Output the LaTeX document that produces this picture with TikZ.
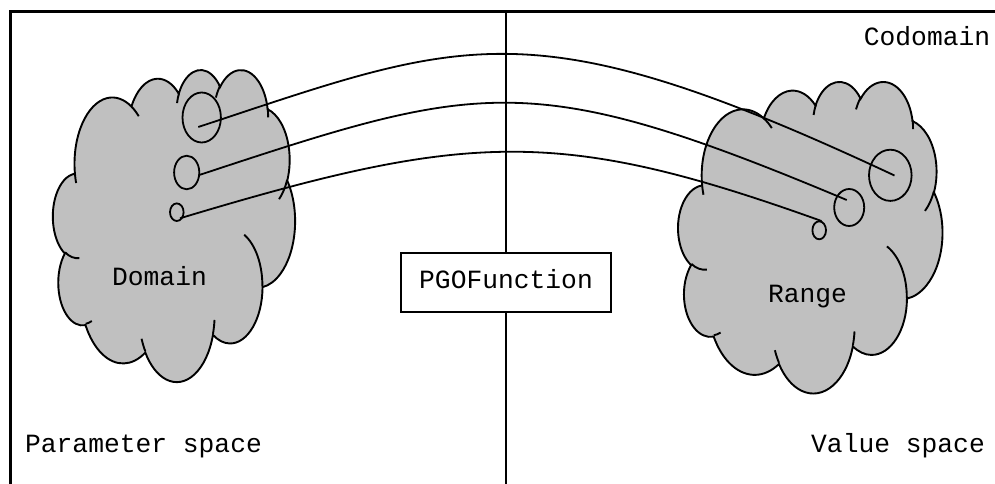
\documentclass[tikz,border=0pt]{standalone}
\usepackage{fontspec}
\setmonofont{Liberation Mono}
\usetikzlibrary{shapes.geometric}
\definecolor{cloudgray}{RGB}{192,192,192}
% convert OOXML visual arc angles into TikZ parametric angles
\newcommand\cloudcvt[5]{%
  \pgfmathsetmacro\tmpS{atan2((#2)*sin(#4),(#3)*cos(#4))}%
  \pgfmathsetmacro\tmpE{atan2((#2)*sin((#4)+(#5)),(#3)*cos((#4)+(#5)))}%
  \pgfmathsetmacro\tmpD{(\tmpE)-(\tmpS)}%
  \pgfmathsetmacro\tmpD{(\tmpD)-360*round(((\tmpD)-(#5))/360)}%
  \expandafter\xdef\csname cls#1\endcsname{\tmpS}%
  \expandafter\xdef\csname cld#1\endcsname{\tmpD}%
}
\newcommand\cloudouter{(39.00,143.70)
 arc[start angle=\clsA, delta angle=\cldA, x radius=67.53, y radius=91.90]
 arc[start angle=\clsB, delta angle=\cldB, x radius=53.33, y radius=72.67]
 arc[start angle=\clsC, delta angle=\cldC, x radius=43.65, y radius=59.45]
 arc[start angle=\clsD, delta angle=\cldD, x radius=48.57, y radius=65.95]
 arc[start angle=\clsE, delta angle=\cldE, x radius=53.33, y radius=72.73]
 arc[start angle=\clsF, delta angle=\cldF, x radius=67.75, y radius=92.20]
 arc[start angle=\clsG, delta angle=\cldG, x radius=57.85, y radius=78.67]
 arc[start angle=\clsH, delta angle=\cldH, x radius=67.52, y radius=92.15]
 arc[start angle=\clsI, delta angle=\cldI, x radius=77.20, y radius=105.43]
 arc[start angle=\clsJ, delta angle=\cldJ, x radius=43.60, y radius=59.18]
 arc[start angle=\clsK, delta angle=\cldK, x radius=43.45, y radius=59.45]
 -- cycle}
\newcommand\cloudinner{
 (46.93,261.77) arc[start angle=\clsa, delta angle=\clda, x radius=43.45, y radius=59.45]
 (69.28,348.99) arc[start angle=\clsb, delta angle=\cldb, x radius=43.60, y radius=59.18]
 (164.78,390.90) arc[start angle=\clsc, delta angle=\cldc, x radius=67.52, y radius=92.15]
 (288.27,347.51) arc[start angle=\clsd, delta angle=\cldd, x radius=67.52, y radius=92.15]
 (341.29,229.54) arc[start angle=\clse, delta angle=\clde, x radius=57.85, y radius=78.67]
 (417.98,153.54) arc[start angle=\clsf, delta angle=\cldf, x radius=53.33, y radius=72.73]
 (383.24,54.26) arc[start angle=\clsg, delta angle=\cldg, x radius=48.57, y radius=65.95]
 (290.78,39.52) arc[start angle=\clsh, delta angle=\cldh, x radius=48.57, y radius=65.95]
 (221.41,47.20) arc[start angle=\clsi, delta angle=\cldi, x radius=43.65, y radius=59.45]
 (140.00,51.92) arc[start angle=\clsj, delta angle=\cldj, x radius=67.53, y radius=91.90]
 (41.27,157.89) arc[start angle=\clsk, delta angle=\cldk, x radius=67.53, y radius=91.90]
}
\begin{document}
\begin{tikzpicture}[x=1pt,y=-1pt,
  txt/.style={font=\ttfamily\fontsize{26.3}{30}\selectfont, inner sep=0pt},
  cloudline/.style={draw=black, line width=1.9pt, fill=cloudgray},
  inarc/.style={draw=black, line width=1.9pt},
  blob/.style={ellipse, draw=black, line width=1.8pt, inner sep=0pt},
  link/.style={draw=black, line width=1.8pt},
  fnbox/.style={draw=black, fill=white, line width=1.7pt, inner sep=0pt,
    minimum width=210.5pt, minimum height=59.5pt, text height=11.6pt, text depth=0pt,
    font=\ttfamily\fontsize{26.3}{30}\selectfont}]
\useasboundingbox (0,0) rectangle (995,484);
\fill[white] (0,0) rectangle (995,484);
\cloudcvt{A}{67.53}{91.90}{-190.48748}{123.78053}
\cloudcvt{B}{53.33}{72.67}{-144.10238}{89.94523}
\cloudcvt{C}{43.65}{59.45}{-145.80792}{99.72302}
\cloudcvt{D}{48.57}{65.95}{-130.98607}{117.24173}
\cloudcvt{E}{53.33}{72.73}{-78.70888}{109.02692}
\cloudcvt{F}{67.75}{92.20}{-46.26725}{130.26900}
\cloudcvt{G}{57.85}{78.67}{0.62502}{114.03333}
\cloudcvt{H}{67.52}{92.15}{22.45160}{115.17255}
\cloudcvt{I}{77.20}{105.43}{66.24263}{75.71102}
\cloudcvt{J}{43.60}{59.18}{-274.94208}{146.73557}
\cloudcvt{K}{43.45}{59.45}{-246.82850}{152.51885}
\cloudcvt{a}{43.45}{59.45}{86.74200}{26.42950}
\cloudcvt{b}{43.60}{59.18}{73.61047}{11.44747}
\cloudcvt{c}{67.52}{92.15}{137.62415}{14.08110}
\cloudcvt{d}{67.52}{92.15}{6.45327}{15.99835}
\cloudcvt{e}{57.85}{78.67}{-70.29235}{70.91737}
\cloudcvt{f}{53.33}{72.73}{30.31803}{27.75150}
\cloudcvt{g}{48.57}{65.95}{-13.74433}{14.85890}
\cloudcvt{h}{48.57}{65.95}{-149.18145}{18.19537}
\cloudcvt{i}{43.65}{59.45}{-163.49427}{17.68635}
\cloudcvt{j}{67.53}{91.90}{-66.70695}{12.31935}
\cloudcvt{k}{67.53}{91.90}{157.65435}{11.85817}
% Domain cloud
\begin{scope}[shift={(53,69)}, x=0.56019pt, y=-0.72222pt]
  \path[cloudline] \cloudouter;
  \path[inarc] \cloudinner;
\end{scope}
% Range cloud
\begin{scope}[shift={(678.2,80.9)}, x=0.61157pt, y=-0.72106pt]
  \path[cloudline] \cloudouter;
  \path[inarc] \cloudinner;
\end{scope}
% frame and divider
\draw[line width=3.3pt] (10.7,500) -- (10.7,11.7) -- (1010,11.7);
\node[fnbox] (fn) at (506,282.5) {PGOFunction};
\coordinate (vtop) at (506,11.7);
\coordinate (vbot) at (506,500);
\draw[line width=1.5pt] (vtop) -- (fn.north);
\draw[line width=1.5pt] (fn.south) -- (vbot);
% small sets
\node[blob, minimum width=38.4pt, minimum height=50pt] (l1) at (201.7,117.5) {};
\node[blob, minimum width=25.2pt, minimum height=33.6pt] (l2) at (186.7,172.5) {};
\node[blob, minimum width=13.6pt, minimum height=17.6pt] (l3) at (176.8,212.2) {};
\node[blob, minimum width=42.6pt, minimum height=51.2pt] (r1) at (890.3,175.3) {};
\node[blob, minimum width=30pt, minimum height=37pt] (r2) at (849.2,207.5) {};
\node[blob, minimum width=13.6pt, minimum height=18pt] (r3) at (819.2,230.3) {};
\coordinate (p1) at (198.3,127);
\coordinate (q1) at (894.5,175.5);
\coordinate (p2) at (199.3,175);
\coordinate (q2) at (846.7,200);
\coordinate (p3) at (180,218.3);
\coordinate (q3) at (821.5,221);
\draw[link] (p1) .. controls (466.6,38.4) and (529.4,4.6) .. (q1);
\draw[link] (p2) .. controls (481,82) and (530.3,67) .. (q2);
\draw[link] (p3) .. controls (467.7,131.7) and (558.6,126.5) .. (q3);
% labels
\node[txt, anchor=base] (dom) at (159.5,285.7) {Domain};
\node[txt, anchor=base] (rng) at (807.5,302) {Range};
\node[txt, anchor=base] (cod) at (927,45.7) {Codomain};
\node[txt, anchor=base] (par) at (143.5,452.7) {Parameter space};
\node[txt, anchor=base] (val) at (898,452) {Value space};
\end{tikzpicture}
\end{document}
